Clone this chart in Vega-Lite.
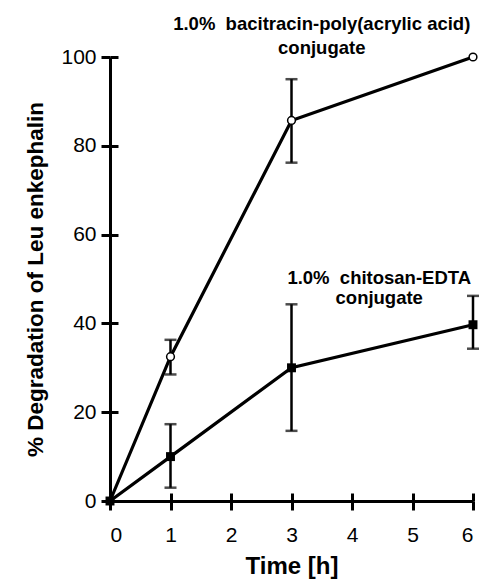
{
  "$schema": "https://vega.github.io/schema/vega-lite/v6.json",
  "width": 363,
  "height": 444,
  "padding": {"left": 110, "top": 57, "right": 10, "bottom": 86},
  "autosize": {"type": "none"},
  "background": "white",
  "config": {
    "view": {"stroke": null},
    "font": "Liberation Sans",
    "axis": {"grid": false, "domainColor": "black", "tickColor": "black", "labelColor": "black", "titleColor": "black", "domainWidth": 3, "tickWidth": 3, "labelFont": "Liberation Sans", "titleFont": "Liberation Sans"}
  },
  "datasets": {
    "series": [
      {"series": "bacitracin", "time": 0, "value": 0},
      {"series": "bacitracin", "time": 1, "value": 32.5, "lo": 28.5, "hi": 36.3},
      {"series": "bacitracin", "time": 3, "value": 85.7, "lo": 76.2, "hi": 95},
      {"series": "bacitracin", "time": 6, "value": 100},
      {"series": "chitosan", "time": 0, "value": 0},
      {"series": "chitosan", "time": 1, "value": 10, "lo": 3, "hi": 17.3},
      {"series": "chitosan", "time": 3, "value": 30, "lo": 15.8, "hi": 44.3},
      {"series": "chitosan", "time": 6, "value": 39.7, "lo": 34.3, "hi": 46.2}
    ]
  },
  "resolve": {"axis": {"x": "independent", "y": "independent"}},
  "layer": [
    {
      "data": {"name": "series"},
      "mark": {"type": "line", "color": "black", "strokeWidth": 3.2},
      "encoding": {
        "x": {"field": "time", "type": "quantitative", "scale": {"domain": [0, 6], "nice": false},
          "axis": {"values": [0, 1, 2, 3, 4, 5, 6], "title": "Time [h]", "tickSize": 9, "labelFontSize": 21, "labelPadding": 14, "titleFontSize": 24, "titleFontWeight": "bold", "titlePadding": 9}},
        "y": {"field": "value", "type": "quantitative", "scale": {"domain": [0, 100], "nice": false},
          "axis": {"values": [0, 20, 40, 60, 80, 100], "title": "% Degradation of Leu enkephalin", "tickSize": 9, "labelFontSize": 21, "labelPadding": 5, "titleFontSize": 22.5, "titleFontWeight": "bold", "titlePadding": 13}},
        "detail": {"field": "series"}
      }
    },
    {
      "data": {"name": "series"},
      "transform": [{"filter": "datum.series == 'chitosan'"}],
      "mark": {"type": "point", "shape": "square", "filled": true, "color": "black", "size": 80, "opacity": 1},
      "encoding": {
        "x": {"field": "time", "type": "quantitative", "scale": {"domain": [0, 6], "nice": false},
          "axis": {"orient": "bottom", "values": [0, 1, 2, 3, 4, 5, 6], "tickSize": -8, "labels": false, "domain": false, "title": null}},
        "y": {"field": "value", "type": "quantitative", "scale": {"domain": [0, 100], "nice": false},
          "axis": {"orient": "left", "values": [0, 20, 40, 60, 80, 100], "tickSize": -8, "labels": false, "domain": false, "title": null}}
      }
    },
    {
      "data": {"name": "series"},
      "transform": [{"filter": "datum.lo != null"}],
      "mark": {"type": "errorbar", "ticks": {"size": 12, "color": "black", "strokeWidth": 2.5}, "color": "black", "thickness": 2.5},
      "encoding": {
        "x": {"field": "time", "type": "quantitative", "axis": null},
        "y": {"field": "lo", "type": "quantitative", "axis": null},
        "y2": {"field": "hi"}
      }
    },
    {
      "data": {"name": "series"},
      "transform": [{"filter": "datum.series == 'bacitracin' && datum.time > 0"}],
      "mark": {"type": "point", "shape": "circle", "filled": true, "fill": "white", "stroke": "black", "strokeWidth": 1.5, "size": 60, "opacity": 1},
      "encoding": {
        "x": {"field": "time", "type": "quantitative", "axis": null},
        "y": {"field": "value", "type": "quantitative", "axis": null}
      }
    },
    {
      "data": {"values": [{"label": "bacitracin"}]},
      "mark": {"type": "text", "fontSize": 18.5, "fontWeight": "bold", "font": "Liberation Sans", "align": "center", "baseline": "middle", "lineHeight": 24, "color": "black"},
      "encoding": {
        "x": {"datum": 3.5, "type": "quantitative", "axis": null},
        "y": {"datum": 107.4, "type": "quantitative", "axis": null},
        "text": {"value": ["1.0%\u00a0 bacitracin-poly(acrylic acid)", "conjugate"]}
      }
    },
    {
      "data": {"values": [{"label": "chitosan"}]},
      "mark": {"type": "text", "fontSize": 18.5, "fontWeight": "bold", "font": "Liberation Sans", "align": "center", "baseline": "middle", "lineHeight": 20, "color": "black"},
      "encoding": {
        "x": {"datum": 4.45, "type": "quantitative", "axis": null},
        "y": {"datum": 50.2, "type": "quantitative", "axis": null},
        "text": {"value": ["1.0%\u00a0 chitosan-EDTA", "conjugate"]}
      }
    }
  ]
}
